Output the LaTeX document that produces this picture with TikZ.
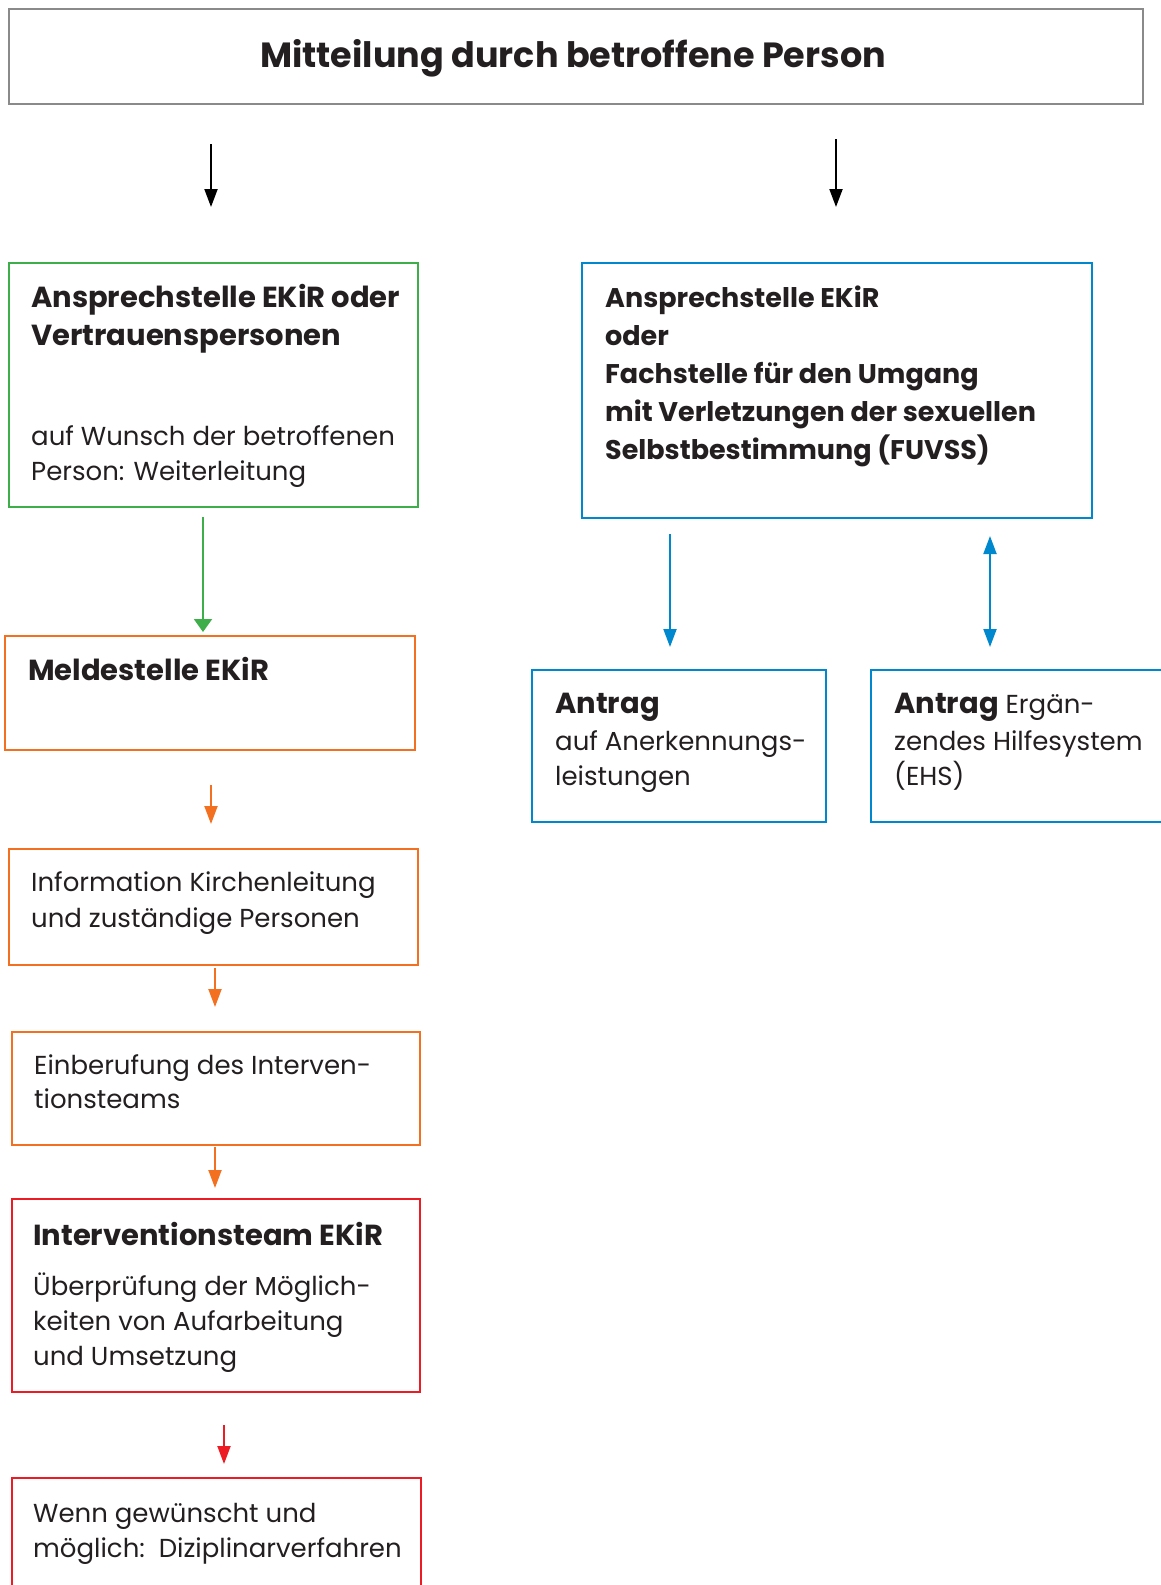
\documentclass[tikz,border=0pt]{standalone}
\usepackage{fontspec}
\setmainfont{Poppins}
\usetikzlibrary{arrows.meta}

\definecolor{grau}{HTML}{8A8A8A}
\definecolor{gruen}{HTML}{3DAE49}
\definecolor{orange}{HTML}{F37021}
\definecolor{rot}{HTML}{ED1C24}
\definecolor{blau}{HTML}{0088CE}
\definecolor{schrift}{HTML}{231F20}

\newcommand{\fett}[1]{{\bfseries\fontsize{29}{35}\selectfont #1}}

\begin{document}
\begin{tikzpicture}[x=1pt, y=1pt,
    box/.style={draw, line width=2.8pt, outer sep=0pt, inner sep=0pt, anchor=north west},
    txt/.style={anchor=base west, inner sep=0pt, align=left, text=schrift, font=\fontsize{26}{35}\selectfont},
    arr/.style={line width=2pt, -{Triangle[width=13pt,length=18pt]}}]
    % Rahmen
    \useasboundingbox (0,0) rectangle (1160,-1585);
    % Kopf
    \node[box, draw=grau, minimum width=1134, minimum height=95](titel)at(9,-9){};
    \node[anchor=base, inner sep=0pt, text=schrift, font=\bfseries\fontsize{35}{40}\selectfont](titeltxt)at(573,-67){Mitteilung durch betroffene Person};
    % linke Spalte
    \node[box, draw=gruen, minimum width=409, minimum height=244](ansprech)at(9,-263){};
    \node[txt](ansprechtxt)at(31,-480){\fett{Ansprechstelle EKiR oder}\\[3pt]\fett{Vertrauenspersonen}\\[65pt]auf Wunsch der betroffenen\\Person: Weiterleitung};
    \node[box, draw=orange, minimum width=410, minimum height=114](melde)at(5,-636){};
    \node[txt](meldetxt)at(28,-680){\fett{Meldestelle EKiR}};
    \node[box, draw=orange, minimum width=409, minimum height=116](info)at(9,-849){};
    \node[txt, font=\fontsize{26}{36}\selectfont](infotxt)at(31,-927){Information Kirchenleitung\\und zuständige Personen};
    \node[box, draw=orange, minimum width=408, minimum height=113](einb)at(12,-1032){};
    \node[txt, font=\fontsize{26}{34}\selectfont](einbtxt)at(34,-1108){Einberufung des Interven-\\tionsteams};
    \node[box, draw=rot, minimum width=408, minimum height=193](team)at(12,-1199){};
    \node[txt](teamtxt)at(33,-1365){\fett{Interventionsteam EKiR}\\[15pt]Überprüfung der Möglich-\\keiten von Aufarbeitung\\und Umsetzung};
    \node[box, draw=rot, minimum width=409, minimum height=130](diszi)at(12,-1478){};
    \node[txt](diszitxt)at(33,-1557){Wenn gewünscht und\\möglich:~~Diziplinarverfahren};
    % rechte Spalte
    \node[box, draw=blau, minimum width=510, minimum height=255](fach)at(582,-263){};
    \node[txt, font=\bfseries\fontsize{27}{38}\selectfont](fachtxt)at(605,-459){Ansprechstelle EKiR\\oder\\Fachstelle für den Umgang\\mit Verletzungen der sexuellen\\Selbstbestimmung (FUVSS)};
    \node[box, draw=blau, minimum width=294, minimum height=152](anerk)at(532,-670){};
    \node[txt](anerktxt)at(555,-785){\fett{Antrag}\\[2pt]auf Anerkennungs-\\leistungen};
    \node[box, draw=blau, minimum width=310, minimum height=152](ehs)at(871,-670){};
    \node[txt](ehstxt)at(894,-785){\fett{Antrag} Ergän-\\[2pt]zendes Hilfesystem\\(EHS)};
    % Pfeile
    \draw[arr, shorten <=40pt, shorten >=56pt](titel.south -| 211,0)--(ansprech.north -| 211,0);
    \draw[arr, shorten <=35pt, shorten >=56pt](titel.south -| 836,0)--(fach.north -| 836,0);
    \draw[arr, draw=gruen, fill=gruen, -{Triangle[width=18pt,length=13pt]}, shorten <=10pt, shorten >=4pt](ansprech.south -| 203,0)--(melde.north -| 203,0);
    \draw[arr, draw=orange, fill=orange, shorten <=35pt, shorten >=25pt](melde.south -| 211,0)--(info.north -| 211,0);
    \draw[arr, draw=orange, fill=orange, shorten <=3pt, shorten >=25pt](info.south -| 215,0)--(einb.north -| 215,0);
    \draw[arr, draw=orange, fill=orange, shorten <=2pt, shorten >=11pt](einb.south -| 215,0)--(team.north -| 215,0);
    \draw[arr, draw=rot, fill=rot, shorten <=33pt, shorten >=14pt](team.south -| 224,0)--(diszi.north -| 224,0);
    \draw[arr, draw=blau, fill=blau, shorten <=16pt, shorten >=23pt](fach.south -| 670,0)--(anerk.north -| 670,0);
    \draw[arr, draw=blau, fill=blau, {Triangle[width=13pt,length=18pt]}-{Triangle[width=13pt,length=18pt]}, shorten <=18pt, shorten >=23pt](fach.south -| 990,0)--(ehs.north -| 990,0);
\end{tikzpicture}
\end{document}
